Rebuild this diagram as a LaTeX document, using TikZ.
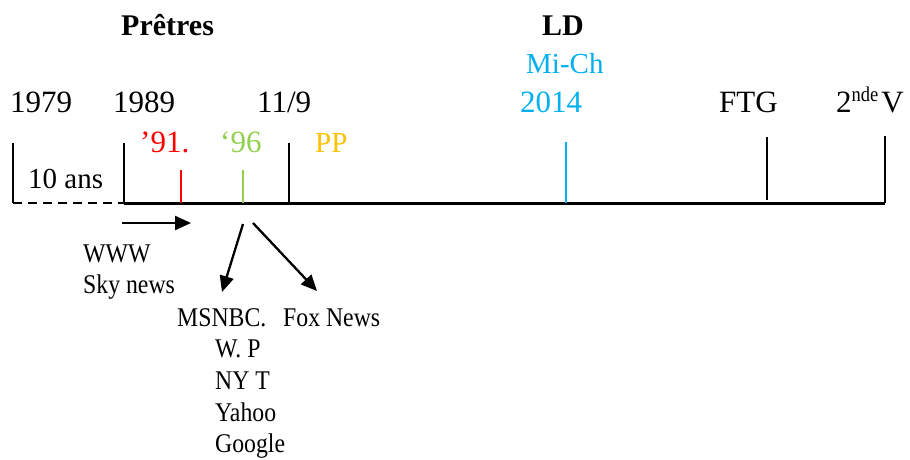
\documentclass[tikz,border=0pt]{standalone}
\usepackage{fontspec}
\setmainfont{Liberation Serif}
\newfontfamily\narrowfont{Liberation Serif}[FakeStretch=0.88]
\usetikzlibrary{arrows.meta}
\definecolor{cred}{RGB}{255,0,0}
\definecolor{cgreen}{RGB}{146,208,80}
\definecolor{cblue}{RGB}{0,176,240}
\definecolor{corange}{RGB}{255,192,0}
\tikzset{
  lbl/.style={anchor=base west,inner sep=0pt,font=\fontsize{31}{36}\selectfont},
  sm/.style={anchor=base west,inner sep=0pt,font=\narrowfont\fontsize{27}{31}\selectfont},
  hd/.style={anchor=base west,inner sep=0pt,font=\fontsize{30}{34}\selectfont\bfseries},
  tick/.style={line width=2.4pt},
  axis/.style={line width=3pt},
  arr/.style={line width=2.3pt,-{Triangle[length=16pt,width=14pt]}}
}
\begin{document}
\begin{tikzpicture}[x=1pt,y=-1pt]
\useasboundingbox (0,0) rectangle (910,459);
% headers
\node[hd] (pretres) at (121,35) {Prêtres};
\node[hd] (ld) at (542,35) {LD};
\node[lbl,font=\fontsize{29}{34}\selectfont,text=cblue] (mich) at (526,73) {Mi-Ch};
% year labels
\node[lbl] (y1979) at (10,112) {1979};
\node[lbl] (y1989) at (113,112) {1989};
\node[lbl] (y119) at (257,112) {11/9};
\node[lbl,text=cblue] (y2014) at (520,112) {2014};
\node[lbl] (ftg) at (719,112) {FTG};
\node[lbl] (v2) at (836,112) {2\raisebox{11pt}{\narrowfont\fontsize{21}{22}\selectfont nde}\hspace{3pt}V};
\node[lbl,text=cred] (y91) at (140,152) {’91.};
\node[lbl,text=cgreen] (y96) at (220,152) {‘96};
\node[lbl,font=\fontsize{29}{34}\selectfont,text=corange] (pp) at (315,152) {PP};
\node[lbl,font=\fontsize{29}{34}\selectfont] (dix) at (28,188) {10 ans};
% axis
\coordinate (a0) at (13,203);
\coordinate (a1) at (124,203);
\coordinate (aend) at (885,203);
\draw[tick] (13,143) -- (a0);
\draw[line width=2.4pt,dash pattern=on 9pt off 6pt] (a0) -- (a1);
\draw[tick] (124,143) -- (a1);
\draw[axis] (a1) -- (aend);
\draw[tick,cred] (181,170) -- (181,203);
\draw[tick,cgreen] (243,170) -- (243,203);
\draw[tick] (289,143) -- (289,203);
\draw[tick,cblue] (566,142) -- (566,203);
\draw[tick] (767,137) -- (767,200);
\draw[tick] (885,136) -- (aend);
% arrows
\coordinate (w0) at (122,223);
\coordinate (w1) at (191,223);
\draw[arr] (w0) -- (w1);
\coordinate (m0) at (243,224);
\coordinate (m1) at (222,292);
\draw[arr] (m0) -- (m1);
\coordinate (f0) at (253,223);
\coordinate (f1) at (317,291);
\draw[arr] (f0) -- (f1);
% lower texts
\node[sm] (www) at (83,262) {WWW};
\node[sm] (sky) at (83,293) {Sky news};
\node[sm] (msnbc) at (177,326) {MSNBC.};
\node[sm] (fox) at (283,326) {Fox News};
\node[sm] (wp) at (215,357) {W. P};
\node[sm] (nyt) at (215,389) {NY T};
\node[sm] (yahoo) at (215,421) {Yahoo};
\node[sm] (google) at (215,452) {Google};
\end{tikzpicture}
\end{document}
